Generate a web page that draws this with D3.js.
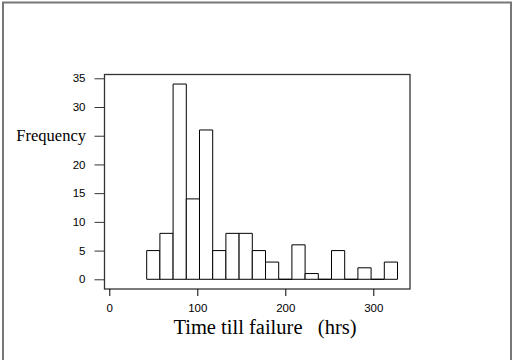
<!DOCTYPE html>
<html>
<head>
<meta charset="utf-8">
<script src="https://cdn.jsdelivr.net/npm/d3@7"></script>
<style>
  html, body { margin: 0; padding: 0; background: #fff; }
  svg { display: block; }
</style>
</head>
<body>
<svg id="chart" width="512" height="360"></svg>
<script>
// Data
const binStart = 42.5;
const binWidth = 15;
const counts = [5, 8, 34, 14, 26, 5, 8, 8, 5, 3, 0, 6, 1, 0, 5, 0, 2, 0, 3];
const xTicks = [0, 100, 200, 300];
const yTicks = [0, 5, 10, 15, 20, 25, 30, 35];
const yHiddenLabels = [25]; // label hidden behind the axis title in the reference
const xTitle = "Time till failure   (hrs)";
const yTitle = "Frequency";

const svg = d3.select("#chart");

// Outer frame
svg.append("path")
  .attr("d", "M3,360 V2.5 H511 V360")
  .attr("fill", "none")
  .attr("stroke", "#777")
  .attr("stroke-width", 2);

const box = { left: 104.5, right: 410, top: 74.5, bottom: 289 };

const x = d3.scaleLinear().domain([-5.45, 341.7]).range([box.left, box.right]);
const y = d3.scaleLinear().domain([-1.69, 35.66]).range([box.bottom, box.top]);

// Bars
const bins = counts.map((c, i) => ({ x0: binStart + i * binWidth, x1: binStart + (i + 1) * binWidth, c }));
svg.append("g").selectAll("path").data(bins).join("path")
  .attr("d", d => `M${x(d.x0)},${y(0)} V${y(d.c)} H${x(d.x1)} V${y(0)} Z`)
  .attr("fill", "#fff")
  .attr("stroke", "#000")
  .attr("stroke-width", 1);

// Box
svg.append("rect")
  .attr("x", box.left).attr("y", box.top)
  .attr("width", box.right - box.left).attr("height", box.bottom - box.top)
  .attr("fill", "none")
  .attr("stroke", "#333")
  .attr("stroke-width", 1.3);

// Y axis
const yAxis = d3.axisLeft(y).tickValues(yTicks)
  .tickFormat(d => yHiddenLabels.includes(d) ? "" : d)
  .tickSize(10).tickPadding(9);
const gy = svg.append("g").attr("transform", `translate(${box.left},0)`).call(yAxis);
gy.select(".domain").remove();
gy.selectAll(".tick line").attr("stroke", "#333");
gy.selectAll(".tick text")
  .attr("font-family", "Liberation Sans, Arial, sans-serif")
  .attr("font-size", 11.5)
  .attr("fill", "#000");

// X axis
const xAxis = d3.axisBottom(x).tickValues(xTicks).tickSize(7).tickPadding(8);
const gx = svg.append("g").attr("transform", `translate(0,${box.bottom})`).call(xAxis);
gx.select(".domain").remove();
gx.selectAll(".tick line").attr("stroke", "#000");
gx.selectAll(".tick text")
  .attr("font-family", "Liberation Sans, Arial, sans-serif")
  .attr("font-size", 11.5)
  .attr("fill", "#000");

// Titles
svg.append("text")
  .attr("x", 86).attr("y", 141)
  .attr("text-anchor", "end")
  .attr("font-family", "Liberation Serif, Times New Roman, serif")
  .attr("font-size", 16.5)
  .text(yTitle);

svg.append("text")
  .attr("x", 265).attr("y", 334)
  .attr("text-anchor", "middle")
  .attr("font-family", "Liberation Serif, Times New Roman, serif")
  .attr("font-size", 20.5)
  .attr("xml:space", "preserve")
  .style("white-space", "pre")
  .text(xTitle);
</script>
</body>
</html>
